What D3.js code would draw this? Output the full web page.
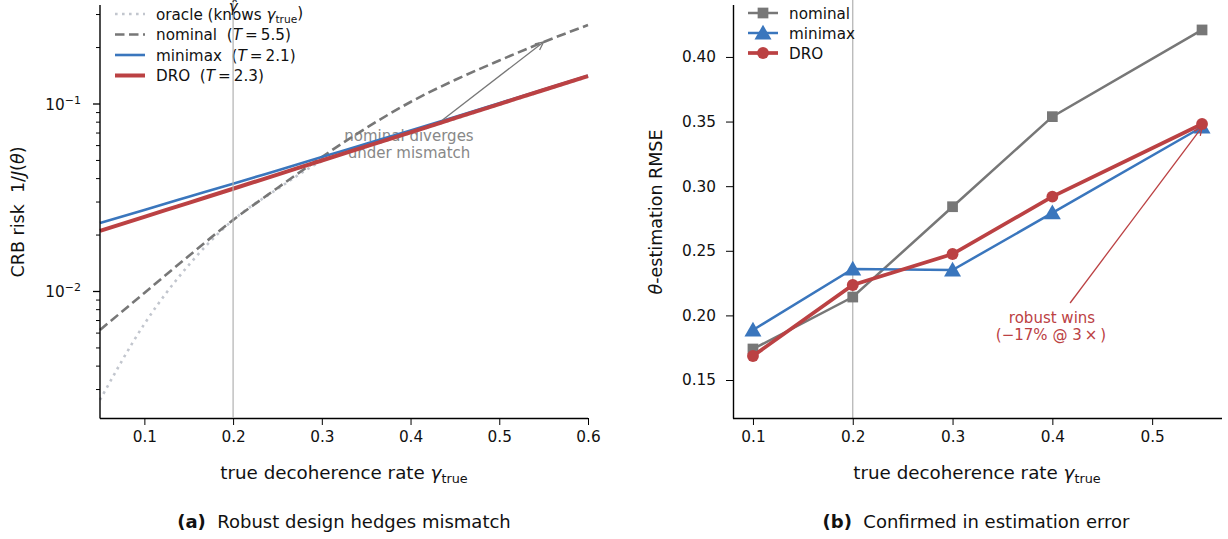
<!DOCTYPE html>
<html>
<head>
<meta charset="utf-8">
<script src="https://cdn.jsdelivr.net/npm/d3@7"></script>
<style>
  body { margin: 0; background: #fff; }
  svg text { font-family: "DejaVu Sans", sans-serif; fill: #111; }
</style>
</head>
<body>
<svg id="fig" width="1228" height="539"></svg>
<script>
// ---- data: panel (a), CRB risk vs true decoherence rate
const gammaGrid = [0.05, 0.10, 0.15, 0.20, 0.25, 0.30, 0.35, 0.40, 0.45, 0.50, 0.55, 0.60];
const oracleRisk  = [0.00264, 0.00671, 0.01384, 0.02405, 0.0352, 0.0495, 0.0589, 0.0700, 0.0832, 0.0990, 0.1177, 0.1397];
const nominalRisk = [0.00624, 0.00982, 0.01547, 0.02405, 0.03565, 0.05215, 0.07447, 0.1025, 0.1343, 0.1706, 0.2141, 0.2638];
const minimaxRisk = [0.02319, 0.02723, 0.03199, 0.03758, 0.04424, 0.05209, 0.06134, 0.07222, 0.08524, 0.1009, 0.1195, 0.1416];
const droRisk     = [0.02104, 0.02500, 0.02972, 0.03531, 0.04201, 0.04998, 0.05943, 0.07063, 0.08400, 0.0999, 0.1188, 0.1410];

// ---- data: panel (b), estimation RMSE
const gammaTest = [0.1, 0.2, 0.3, 0.4, 0.55];
const nominalRmse = [0.174, 0.2142, 0.2841, 0.3538, 0.4209];
const minimaxRmse = [0.1887, 0.2359, 0.2351, 0.2793, 0.3458];
const droRmse     = [0.1686, 0.2235, 0.2475, 0.2919, 0.3481];

const xTicksA = [0.1, 0.2, 0.3, 0.4, 0.5, 0.6];
const xTicksB = [0.1, 0.2, 0.3, 0.4, 0.5];
const yTicksB = [0.15, 0.20, 0.25, 0.30, 0.35, 0.40];
const gammaDesign = 0.2;

const GRAY = '#777777', BLUE = '#3a76bd', RED = '#bb4143', PALE = '#c2c6ce', VLINE = '#b0b0b0';

const svg = d3.select('#fig');

// helper for text with italic / subscript pieces
function rich(sel, parts) {
  parts.forEach(function(p) {
    var ts = sel.append('tspan').text(p.t);
    if (p.it) ts.style('font-style', 'italic');
    if (p.sub) ts.attr('dy', '0.3em').style('font-size', '70%');
    if (p.back) ts.attr('dy', '-0.3em');
  });
  return sel;
}

function arrow(g, x1, y1, x2, y2, color) {
  g.append('line').attr('x1', x1).attr('y1', y1).attr('x2', x2).attr('y2', y2)
    .attr('stroke', color).attr('stroke-width', 1.3);
  var a = Math.atan2(y2 - y1, x2 - x1), L = 9, s = 0.45;
  var p = [[x2 - L * Math.cos(a - s), y2 - L * Math.sin(a - s)], [x2, y2],
           [x2 - L * Math.cos(a + s), y2 - L * Math.sin(a + s)]];
  g.append('path').attr('d', d3.line()(p)).attr('fill', 'none')
    .attr('stroke', color).attr('stroke-width', 1.3);
}

// ================= panel (a) =================
var xA = d3.scaleLinear().domain([0.05, 0.6]).range([100, 588]);
var yA = d3.scaleLog().domain([0.002115, 0.3373]).range([418, 5]);
var gA = svg.append('g');

// annotation text (under the lines)
gA.append('text').attr('x', 409).attr('y', 141).attr('text-anchor', 'middle')
  .style('font-size', '15px').style('fill', '#888').text('nominal diverges');
gA.append('text').attr('x', 409).attr('y', 158).attr('text-anchor', 'middle')
  .style('font-size', '15px').style('fill', '#888').text('under mismatch');

var lineA = d3.line().x(function(d){ return xA(d[0]); }).y(function(d){ return yA(d[1]); })
  .curve(d3.curveMonotoneX);

var seriesA = [
  {name: 'oracle', vals: oracleRisk, color: PALE, w: 2.6, dash: '2.6,4.4'},
  {name: 'nominal', vals: nominalRisk, color: GRAY, w: 2.6, dash: '9.5,4.5'},
  {name: 'minimax', vals: minimaxRisk, color: BLUE, w: 2.6, dash: null},
  {name: 'DRO', vals: droRisk, color: RED, w: 4, dash: null}
];
seriesA.forEach(function(s) {
  gA.append('path')
    .attr('d', lineA(gammaGrid.map(function(g, i){ return [g, s.vals[i]]; })))
    .attr('fill', 'none').attr('stroke', s.color).attr('stroke-width', s.w)
    .attr('stroke-dasharray', s.dash);
});

arrow(gA, xA(0.436), yA(0.0822), xA(0.55), yA(0.2141), GRAY);

// axes
var axA = gA.append('g').attr('transform', 'translate(0,418)')
  .call(d3.axisBottom(xA).tickValues(xTicksA).tickSize(7).tickPadding(6).tickFormat(d3.format('.1f')));
axA.select('.domain').attr('d', 'M100,0.5H588').attr('stroke-width', 1.4);
axA.selectAll('text').style('font-size', '15.3px');

var minorA = [];
[0.001, 0.01, 0.1].forEach(function(dec) {
  for (var k = 2; k <= 9; k++) { var v = k * dec; if (v > yA.domain()[0] && v < yA.domain()[1]) minorA.push(v); }
});
var ayA = gA.append('g').attr('transform', 'translate(100,0)');
ayA.append('line').attr('x1', 0).attr('x2', 0).attr('y1', 5).attr('y2', 418.5)
  .attr('stroke', '#000').attr('stroke-width', 1.4);
ayA.selectAll('line.minor').data(minorA).enter().append('line').attr('class', 'minor')
  .attr('x1', -4).attr('x2', 0).attr('y1', function(d){ return yA(d); }).attr('y2', function(d){ return yA(d); })
  .attr('stroke', '#000').attr('stroke-width', 1);
[[0.1, '\u22121'], [0.01, '\u22122']].forEach(function(t) {
  ayA.append('line').attr('x1', -7).attr('x2', 0).attr('y1', yA(t[0])).attr('y2', yA(t[0]))
    .attr('stroke', '#000').attr('stroke-width', 1.3);
  var tx = ayA.append('text').attr('x', -19).attr('y', yA(t[0]) + 6).attr('text-anchor', 'end')
    .style('font-size', '15.3px');
  tx.append('tspan').text('10');
  tx.append('tspan').attr('dy', '-0.55em').style('font-size', '11px').text(t[1]);
});

// axis labels
rich(gA.append('text').attr('x', 344).attr('y', 479).attr('text-anchor', 'middle').style('font-size', '18.3px'),
  [{t: 'true decoherence rate '}, {t: 'γ', it: true}, {t: 'true', sub: true}]);
rich(gA.append('text').attr('transform', 'translate(24,212) rotate(-90)').attr('text-anchor', 'middle').style('font-size', '17.5px'),
  [{t: 'CRB risk\u00a0\u00a01/'}, {t: 'J', it: true}, {t: '('}, {t: 'θ', it: true}, {t: ')'}]);

// legend (a)
var legA = [
  {s: seriesA[0], parts: [{t: 'oracle (knows '}, {t: 'γ', it: true}, {t: 'true', sub: true}, {t: ')', back: true}]},
  {s: seriesA[1], parts: [{t: 'nominal\u00a0\u00a0('}, {t: 'T', it: true}, {t: '\u2009=\u20095.5)'}]},
  {s: seriesA[2], parts: [{t: 'minimax\u00a0\u00a0('}, {t: 'T', it: true}, {t: '\u2009=\u20092.1)'}]},
  {s: seriesA[3], parts: [{t: 'DRO\u00a0\u00a0('}, {t: 'T', it: true}, {t: '\u2009=\u20092.3)'}]}
];
legA.forEach(function(l, i) {
  var y = 14 + i * 20.5;
  gA.append('line').attr('x1', 115).attr('x2', 145).attr('y1', y).attr('y2', y)
    .attr('stroke', l.s.color).attr('stroke-width', l.s.w).attr('stroke-dasharray', l.s.dash);
  rich(gA.append('text').attr('x', 156).attr('y', y + 5.5).style('font-size', '15.2px'), l.parts);
});

// design-point marker
gA.append('line').attr('x1', xA(gammaDesign)).attr('x2', xA(gammaDesign)).attr('y1', 0).attr('y2', 418)
  .attr('stroke', VLINE).attr('stroke-width', 1.2);
gA.append('text').attr('x', xA(gammaDesign)).attr('y', 12).attr('text-anchor', 'middle')
  .style('font-size', '15px').style('font-style', 'italic').text('γ\u0302');

// ================= panel (b) =================
var xB = d3.scaleLinear().domain([0.08, 0.569]).range([733, 1221]);
var yB = d3.scaleLinear().domain([0.1206, 0.4402]).range([418, 5]);
var gB = svg.append('g');

gB.append('line').attr('x1', xB(gammaDesign)).attr('x2', xB(gammaDesign)).attr('y1', 0).attr('y2', 418)
  .attr('stroke', VLINE).attr('stroke-width', 1.2);

var axB = gB.append('g').attr('transform', 'translate(0,418)')
  .call(d3.axisBottom(xB).tickValues(xTicksB).tickSize(7).tickPadding(6).tickFormat(d3.format('.1f')));
axB.select('.domain').attr('d', 'M733,0.5H1222').attr('stroke-width', 1.4);
axB.selectAll('text').style('font-size', '15.3px');

var ayB = gB.append('g').attr('transform', 'translate(733,0)')
  .call(d3.axisLeft(yB).tickValues(yTicksB).tickSize(7).tickPadding(10).tickFormat(d3.format('.2f')));
ayB.select('.domain').attr('d', 'M0.5,5V418.5').attr('stroke-width', 1.4);
ayB.selectAll('text').style('font-size', '15.3px');

var lineB = d3.line().x(function(d){ return xB(d[0]); }).y(function(d){ return yB(d[1]); });
var seriesB = [
  {name: 'nominal', vals: nominalRmse, color: GRAY, w: 2.5, marker: 'square'},
  {name: 'minimax', vals: minimaxRmse, color: BLUE, w: 2.5, marker: 'triangle'},
  {name: 'DRO', vals: droRmse, color: RED, w: 3.7, marker: 'circle'}
];
var symSize = {square: 115, triangle: 125, circle: 110};
var symType = {square: d3.symbolSquare, triangle: d3.symbolTriangle, circle: d3.symbolCircle};

// annotation (b)
gB.append('text').attr('x', 1052).attr('y', 323).attr('text-anchor', 'middle')
  .style('font-size', '15px').style('fill', RED).text('robust wins');
gB.append('text').attr('x', 1051).attr('y', 340).attr('text-anchor', 'middle')
  .style('font-size', '15px').style('fill', RED).text('(\u221217% @ 3\u2009\u00d7\u2009)');

seriesB.forEach(function(s) {
  var pts = gammaTest.map(function(g, i){ return [g, s.vals[i]]; });
  gB.append('path').attr('d', lineB(pts)).attr('fill', 'none')
    .attr('stroke', s.color).attr('stroke-width', s.w);
  gB.selectAll(null).data(pts).enter().append('path')
    .attr('transform', function(d){ return 'translate(' + xB(d[0]) + ',' + (yB(d[1]) + (s.marker === 'triangle' ? 1.5 : 0)) + ')'; })
    .attr('d', d3.symbol().type(symType[s.marker]).size(symSize[s.marker]))
    .attr('fill', s.color);
});

arrow(gB, xB(0.4178), yB(0.2096), xB(0.55), yB(0.3481) + 3, RED);

// axis labels (b)
rich(gB.append('text').attr('x', 977).attr('y', 479).attr('text-anchor', 'middle').style('font-size', '18.3px'),
  [{t: 'true decoherence rate '}, {t: 'γ', it: true}, {t: 'true', sub: true}]);
rich(gB.append('text').attr('transform', 'translate(662,212) rotate(-90)').attr('text-anchor', 'middle').style('font-size', '17.5px'),
  [{t: 'θ', it: true}, {t: '-estimation RMSE'}]);

// legend (b)
seriesB.forEach(function(s, i) {
  var y = 13 + i * 20;
  gB.append('line').attr('x1', 748).attr('x2', 778).attr('y1', y).attr('y2', y)
    .attr('stroke', s.color).attr('stroke-width', s.w);
  gB.append('path').attr('transform', 'translate(763,' + (y + (s.marker === 'triangle' ? 1.5 : 0)) + ')')
    .attr('d', d3.symbol().type(symType[s.marker]).size(symSize[s.marker])).attr('fill', s.color);
  gB.append('text').attr('x', 789).attr('y', y + 5.5).style('font-size', '15.2px').text(s.name);
});

// captions
[[344, '(a)', 'Robust design hedges mismatch'], [976, '(b)', 'Confirmed in estimation error']].forEach(function(c) {
  var t = svg.append('text').attr('x', c[0]).attr('y', 528).attr('text-anchor', 'middle').style('font-size', '18px');
  t.append('tspan').style('font-weight', 'bold').text(c[1]);
  t.append('tspan').text('\u00a0\u00a0' + c[2]);
});
</script>
</body>
</html>
